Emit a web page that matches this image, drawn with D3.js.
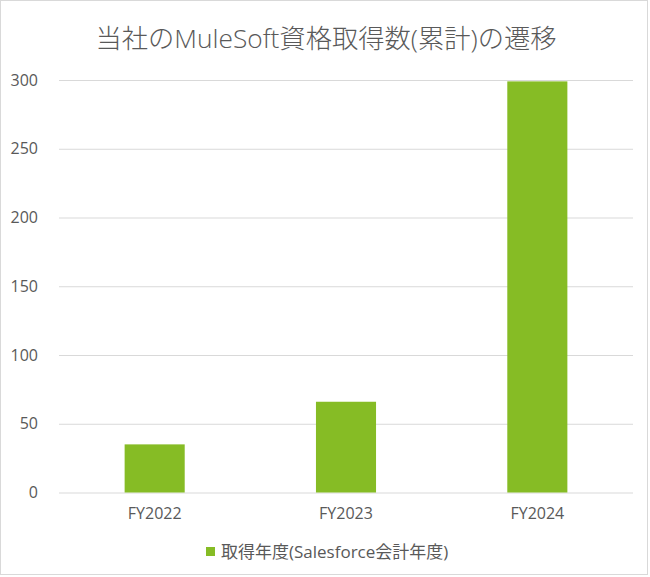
<!DOCTYPE html>
<html>
<head>
<meta charset="utf-8">
<script src="https://cdn.jsdelivr.net/npm/d3@7"></script>
<style>
  body { margin: 0; background: #fff; }
  text { font-family: "Open Sans", "Noto Sans CJK JP", sans-serif; fill: #595959; }
</style>
</head>
<body>
<div id="chart"></div>
<script>
// chart data
var categories = ["FY2022", "FY2023", "FY2024"];
var counts = [35, 66, 299];
var yTicks = [0, 50, 100, 150, 200, 250, 300];
var titleText = "当社のMuleSoft資格取得数(累計)の遷移";
var seriesName = "取得年度(Salesforce会計年度)";

var W = 650, H = 577;
var plotL = 59, plotR = 633, plotT = 80, plotB = 492.5;
var barColor = "#86bc25";

var svg = d3.select('#chart').append('svg')
    .attr('width', W).attr('height', H);

// outer frame
svg.append('rect')
    .attr('x', 0.5).attr('y', 0.5)
    .attr('width', 647).attr('height', 574)
    .attr('fill', '#fff').attr('stroke', '#d9d9d9');

var x = d3.scaleBand().domain(categories)
    .range([plotL, plotR]).paddingInner(0.686).paddingOuter(0.343);
var y = d3.scaleLinear().domain([0, 300]).range([plotB, plotT]);

svg.append('text')
    .attr('x', 326).attr('y', 38)
    .attr('text-anchor', 'middle').attr('dominant-baseline', 'central')
    .style('font-size', '26.3px').style('font-weight', 300)
    .text(titleText);

// gridlines + y labels
var yAxis = d3.axisLeft(y).tickValues(yTicks).tickSize(-(plotR - plotL)).tickPadding(21);
var gy = svg.append('g').attr('transform', 'translate(' + plotL + ',0)').call(yAxis);
gy.select('.domain').remove();
gy.selectAll('line').attr('stroke', '#d9d9d9');
gy.selectAll('text').style('font-size', '16px').attr('fill', '#595959');

// bars
svg.selectAll('rect.bar').data(counts)
    .enter().append('rect')
    .attr('class', 'bar')
    .attr('x', function(d, i){ return x(categories[i]); })
    .attr('y', function(d){ return y(d); })
    .attr('width', x.bandwidth())
    .attr('height', function(d){ return y(0) - y(d); })
    .attr('fill', barColor);

// x labels
var xAxis = d3.axisBottom(x).tickSize(0).tickPadding(15);
var gx = svg.append('g').attr('transform', 'translate(0,' + plotB + ')').call(xAxis);
gx.select('.domain').remove();
gx.selectAll('text').style('font-size', '16px').attr('fill', '#595959');

// legend
var lg = svg.append('g').attr('transform', 'translate(206,547)');
lg.append('rect').attr('width', 9).attr('height', 9).attr('fill', barColor);
lg.append('text').attr('x', 15).attr('y', 4.5)
    .attr('dominant-baseline', 'central')
    .style('font-size', '17px')
    .text(seriesName);
</script>
</body>
</html>
